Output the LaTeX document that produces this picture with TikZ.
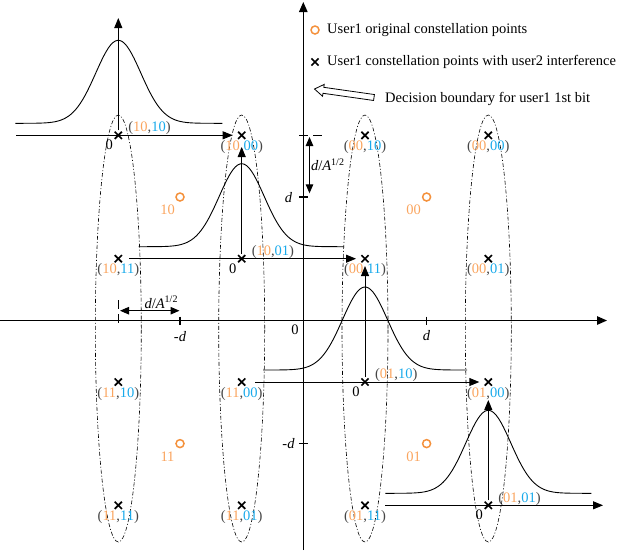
\documentclass[tikz,border=0pt]{standalone}
\usepackage{fontspec}
\setmainfont{Liberation Serif}
\usetikzlibrary{arrows.meta}
\definecolor{uorange}{RGB}{244,145,60}
\definecolor{uorangetxt}{RGB}{250,165,95}
\definecolor{ublue}{RGB}{25,170,235}
\definecolor{pgray}{RGB}{70,70,70}
\newcommand{\cl}[2]{\textcolor{pgray}{(}\textcolor{uorangetxt}{#1}\textcolor{pgray}{,}\textcolor{ublue}{#2}\textcolor{pgray}{)}}
\newcommand{\dA}{\textit{d}/\textit{A}\raisebox{5.5pt}{\fontsize{10}{12}\selectfont 1/2}}
\begin{document}
\begin{tikzpicture}[x=1pt,y=-1pt, font=\fontsize{14.5}{17}\selectfont,
 xm/.style={rectangle,minimum size=10pt,inner sep=0pt,outer sep=0pt,
   path picture={\draw[line width=1.7pt]
     ([shift={(-3.6pt,-3.6pt)}]path picture bounding box.center) -- ([shift={(3.6pt,3.6pt)}]path picture bounding box.center)
     ([shift={(-3.6pt,3.6pt)}]path picture bounding box.center) -- ([shift={(3.6pt,-3.6pt)}]path picture bounding box.center);}},
 oc/.style={circle,draw=uorange,line width=1.5pt,minimum size=8pt,inner sep=0pt},
 ax/.style={line width=1.2pt,-{Triangle[length=10pt,width=8.5pt]}},
 gax/.style={line width=0.9pt,-{Triangle[length=10pt,width=8pt]}},
 dimarr/.style={line width=1pt,{Triangle[length=9pt,width=7.5pt]}-{Triangle[length=9pt,width=7.5pt]}},
 gauss/.style={line width=0.9pt},
 dd/.style={line width=0.6pt, dash pattern=on 4pt off 2pt on 1pt off 2pt},
 dimdash/.style={line width=0.9pt, dash pattern=on 9pt off 5pt},
 txt/.style={inner sep=0pt},
 olab/.style={inner sep=0pt, text=uorangetxt},
]
\useasboundingbox (0,0) rectangle (639,550);

% main axes
\coordinate (xl) at (0,320.5);
\coordinate (xr) at (607,320.5);
\coordinate (yb) at (303.3,550);
\coordinate (yt) at (303.3,2);
\draw[ax] (xl) -- (xr);
\draw[ax] (yb) -- (yt);

% dash-dot ovals
\foreach \cx in {118.3,241.7,365,488.3}
  \draw[dd] (\cx,328.5) ellipse [x radius=23pt, y radius=213.5pt];

% crosses
\node[xm] (c1010) at (118.3,135.3) {};
\node[xm] (c1000) at (241.7,135.3) {};
\node[xm] (c0010) at (365,135.3) {};
\node[xm] (c0000) at (488.3,135.3) {};
\node[xm] (c1011) at (118.3,258.7) {};
\node[xm] (c1001) at (241.7,258.7) {};
\node[xm] (c0011) at (365,258.7) {};
\node[xm] (c0001) at (488.3,258.7) {};
\node[xm] (c1110) at (118.3,382) {};
\node[xm] (c1100) at (241.7,382) {};
\node[xm] (c0110) at (365,382) {};
\node[xm] (c0100) at (488.3,382) {};
\node[xm] (c1111) at (118.3,505.3) {};
\node[xm] (c1101) at (241.7,505.3) {};
\node[xm] (c0111) at (365,505.3) {};
\node[xm] (c0101) at (488.3,505.3) {};

% cross labels
\node[txt] (l1010) at (149.5,128.5) {\cl{10}{10}};
\node[txt] (l1000) at (241.7,147) {\cl{10}{00}};
\node[txt] (l0010) at (365,147) {\cl{00}{10}};
\node[txt] (l0000) at (488.3,147) {\cl{00}{00}};
\node[txt] (l1011) at (118.3,270.4) {\cl{10}{11}};
\node[txt] (l1001) at (272.9,251.9) {\cl{10}{01}};
\node[txt] (l0011) at (365,270.4) {\cl{00}{11}};
\node[txt] (l0001) at (488.3,270.4) {\cl{00}{01}};
\node[txt] (l1110) at (118.3,393.7) {\cl{11}{10}};
\node[txt] (l1100) at (241.7,393.7) {\cl{11}{00}};
\node[txt] (l0110) at (396.2,375.2) {\cl{01}{10}};
\node[txt] (l0100) at (488.3,393.7) {\cl{01}{00}};
\node[txt] (l1111) at (118.3,517) {\cl{11}{11}};
\node[txt] (l1101) at (241.7,517) {\cl{11}{01}};
\node[txt] (l0111) at (365,517) {\cl{01}{11}};
\node[txt] (l0101) at (519.5,498.5) {\cl{01}{01}};

% original points
\node[oc] (o10) at (180,197) {};
\node[oc] (o00) at (426.6,197) {};
\node[oc] (o11) at (180,443.6) {};
\node[oc] (o01) at (426.6,443.6) {};
\node[olab] (t10) at (167.5,210) {10};
\node[olab] (t00) at (413.5,210) {00};
\node[olab] (t11) at (167.5,456.6) {11};
\node[olab] (t01) at (413.5,456.6) {01};

% gaussian 1 (top-left)
\coordinate (g1t) at (118.3,18);
\coordinate (g1l) at (16,135.3);
\draw[gauss] plot[domain=-103:104,samples=90] ({118.3+\x},{135.3-12-83*exp(-\x*\x/1012.5)});
\draw[gax] (c1010) -- (g1t);
\draw[gax,shorten >=4pt] (g1l) -- (c1000);
\node[txt] (z1) at (109.3,145) {0};

% gaussian 2 (middle)
\coordinate (g2t) at (241.7,147);
\coordinate (g2l) at (129,258.7);
\draw[gauss] plot[domain=-103:102,samples=90] ({241.7+\x},{258.7-12-83*exp(-\x*\x/1012.5)});
\draw[gax] (c1001) -- (g2t);
\draw[gax,shorten >=4pt] (g2l) -- (c0011);
\node[txt] (z2) at (232.7,268.5) {0};

% gaussian 3 (center)
\coordinate (g3t) at (365,266);
\coordinate (g3l) at (255,382);
\draw[gauss] plot[domain=-102:102,samples=90] ({365+\x},{382-12-83*exp(-\x*\x/1012.5)});
\draw[gax] (c0110) -- (g3t);
\draw[gax,shorten >=4pt] (g3l) -- (c0100);
\node[txt] (z3) at (356,391.5) {0};

% gaussian 4 (bottom-right)
\coordinate (g4t) at (488.3,400);
\coordinate (g4l) at (385,505.3);
\coordinate (g4r) at (603,505.3);
\draw[gauss] plot[domain=-103:103,samples=90] ({488.3+\x},{505.3-12-83*exp(-\x*\x/1012.5)});
\draw[gax] (c0101) -- (g4t);
\draw[gax] (g4l) -- (g4r);
\node[txt] (z4) at (479.3,514.5) {0};

% ticks and axis labels
\draw[line width=1.1pt] (426.6,316.5) -- (426.6,324.5);
\draw[line width=1.1pt] (180,316.5) -- (180,324.5);
\draw[line width=1.1pt] (298.8,197) -- (308,197);
\draw[line width=1.1pt] (298.8,443.6) -- (308,443.6);
\node[txt] (dx) at (426.6,335.5) {\textit{d}};
\node[txt] (mdx) at (180,336.5) {-\textit{d}};
\node[txt] (zero) at (295,330) {0};
\node[txt] (dy) at (288.5,198) {\textit{d}};
\node[txt] (mdy) at (288.5,443.5) {-\textit{d}};

% vertical dimension d/A^{1/2}
\coordinate (dv1) at (299,135.7);
\coordinate (dv2) at (323,135.7);
\draw[dimdash] (dv1) -- (dv2);
\coordinate (dva) at (309.5,137);
\coordinate (dvb) at (309.5,193.3);
\draw[dimarr] (dva) -- (dvb);
\node[txt] (dvl) at (327.5,165) {\dA};

% horizontal dimension d/A^{1/2}
\coordinate (dh1) at (118.3,300);
\coordinate (dh2) at (118.3,324);
\draw[dimdash] (dh1) -- (dh2);
\coordinate (dha) at (120,310.7);
\coordinate (dhb) at (179.5,310.7);
\draw[dimarr] (dha) -- (dhb);
\node[txt] (dhl) at (161,302.5) {\dA};

% legend
\node[oc] (lego) at (315,30) {};
\node[txt,anchor=west] (legot) at (327,30) {User1 original constellation points};
\node[xm] (legx) at (315,62) {};
\node[txt,anchor=west] (legxt) at (327,62) {User1 constellation points with user2 interference};
\draw[line width=0.8pt,fill=white] (373.58,100.47) -- (322.98,93.27) -- (322.55,96.24) -- (314.5,89) -- (324.25,84.36) -- (323.82,87.33) -- (374.42,94.53) -- cycle;
\node[txt,anchor=west] (legdt) at (385,99) {Decision boundary for user1 1st bit};
\end{tikzpicture}
\end{document}
